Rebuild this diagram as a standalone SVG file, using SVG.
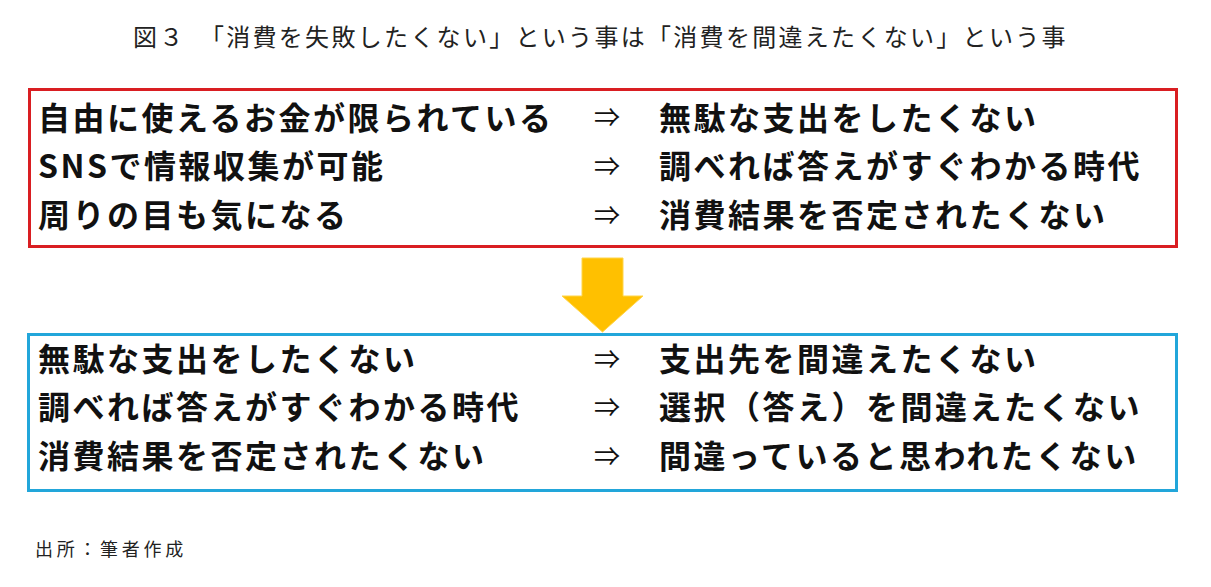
<svg xmlns="http://www.w3.org/2000/svg" width="1211" height="587" viewBox="0 0 1211 587">
<style>
.t{font-family:"Noto Sans CJK JP","Noto Sans",sans-serif;font-size:32px;font-weight:700;fill:#111;letter-spacing:2.5px}
.ar{font-family:"Noto Sans CJK JP","DejaVu Sans",sans-serif;font-size:26px;font-weight:400;fill:#111}
.title{font-family:"Noto Sans CJK JP",sans-serif;font-size:24px;font-weight:400;fill:#222;letter-spacing:2.3px}
.foot{font-family:"Noto Sans CJK JP",sans-serif;font-size:18px;font-weight:400;fill:#222;letter-spacing:3.7px}
.box{fill:#fff;stroke-width:3}
</style>
<rect width="1211" height="587" fill="#fff"/>
<text class="title" x="133" y="46">図３　「消費を失敗したくない」という事は「消費を間違えたくない」という事</text>
<g id="box-top">
<rect class="box" x="29.5" y="89.5" width="1147" height="157" stroke="#D91E22"/>
<text class="t" x="38" y="129.5">自由に使えるお金が限られている</text>
<text class="ar" x="594" y="127">⇒</text>
<text class="t" x="659" y="129.5">無駄な支出をしたくない</text>
<text class="t" x="38" y="178">SNSで情報収集が可能</text>
<text class="ar" x="594" y="176">⇒</text>
<text class="t" x="659" y="178">調べれば答えがすぐわかる時代</text>
<text class="t" x="38" y="226.5">周りの目も気になる</text>
<text class="ar" x="594" y="224.5">⇒</text>
<text class="t" x="659" y="226.5">消費結果を否定されたくない</text>
</g>
<g id="connectors">
<polygon points="582,258 623,258 623,296 643,296 602.5,332 562,296 582,296" fill="#FFC000" stroke="#FFD54A" stroke-width="1"/>
</g>
<g id="box-bottom">
<rect class="box" x="28.5" y="334.5" width="1148" height="156" stroke="#22A6DA"/>
<text class="t" x="38" y="371">無駄な支出をしたくない</text>
<text class="ar" x="594" y="369">⇒</text>
<text class="t" x="659" y="371">支出先を間違えたくない</text>
<text class="t" x="38" y="419">調べれば答えがすぐわかる時代</text>
<text class="ar" x="594" y="417">⇒</text>
<text class="t" x="659" y="419">選択（答え）を間違えたくない</text>
<text class="t" x="38" y="467.5">消費結果を否定されたくない</text>
<text class="ar" x="594" y="465.5">⇒</text>
<text class="t" x="659" y="467.5">間違っていると思われたくない</text>
</g>
<text class="foot" x="35" y="556">出所：筆者作成</text>
</svg>
